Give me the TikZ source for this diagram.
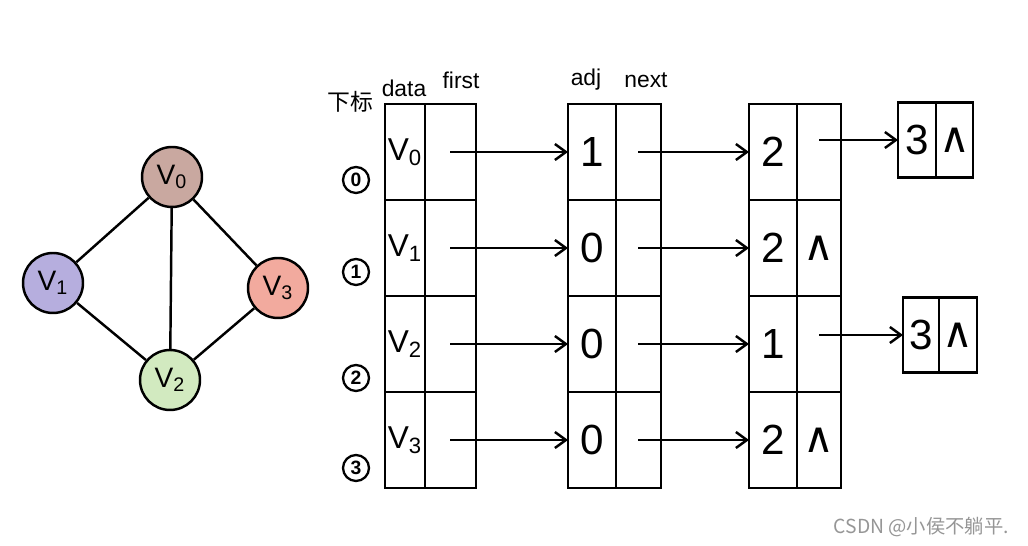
\documentclass[tikz,border=0pt]{standalone}
\usepackage{fontspec}
\setmainfont{Liberation Sans}
\newfontfamily\cjkfont{Noto Sans CJK SC}
\newfontfamily\symfont{DejaVu Sans}
\usepackage{tikz}
\usetikzlibrary{arrows.meta, positioning}
\definecolor{rosebrown}{RGB}{201, 168, 160}
\definecolor{lavender}{RGB}{182, 174, 222}
\definecolor{palegreen}{RGB}{210, 234, 192}
\definecolor{salmonpink}{RGB}{242, 170, 158}
\definecolor{markgray}{RGB}{150, 150, 150}

\begin{document}
\begin{tikzpicture}[
    x=0.02cm, y=-0.02cm,
    line width=1.4pt,
    vert/.style={circle, draw, minimum size=1.2cm, inner sep=0pt, font=\fontsize{16}{18}\selectfont},
    cell/.style={draw, minimum height=1.92cm, inner sep=0pt, outer sep=0pt, font=\fontsize{24}{28}\selectfont},
    nodebox/.style={draw, minimum height=1.5cm, inner sep=0pt, outer sep=0pt, font=\fontsize{24}{28}\selectfont},
    idx/.style={circle, draw, line width=1.3pt, minimum size=0.52cm, inner sep=0pt, font=\bfseries\fontsize{11}{12}\selectfont},
    head/.style={font=\fontsize{13}{15}\selectfont},
    link/.style={-{Straight Barb[length=2.2mm, width=3.2mm]}}
]
    \useasboundingbox[fill=white] (0,0) rectangle (1028,546);

    \node[vert, fill=rosebrown] (v0) at (172,177) {V\textsubscript{0}};
    \node[vert, fill=lavender] (v1) at (53,283) {V\textsubscript{1}};
    \node[vert, fill=palegreen] (v2) at (170,380) {V\textsubscript{2}};
    \node[vert, fill=salmonpink] (v3) at (278,288) {V\textsubscript{3}};
    \draw (v0) -- (v1) (v0) -- (v2) (v0) -- (v3) (v1) -- (v2) (v3) -- (v2);

    \node[head] (hidx) at (350,102) {\cjkfont 下标};
    \node[head] (hdata) at (404,88) {data};
    \node[head] (hfirst) at (461,80) {first};
    \node[head] (hadj) at (586,80) {adj};
    \node[head] (hnext) at (646,80) {next};

    \foreach \i/\yy in {0/180, 1/272, 2/378, 3/468} {
        \node[idx] (i\i) at (356,\yy) {\i};
    }
    \foreach \i in {0,...,3} {
        \node[cell, minimum width=0.8cm, font=\fontsize{18}{22}\selectfont] (d\i) at (405, 152+96*\i) {V\textsubscript{\i}};
        \node[cell, minimum width=1.02cm, anchor=west] (f\i) at (d\i.east) {};
    }
    \foreach \i/\val in {0/1, 1/0, 2/0, 3/0} {
        \node[cell, minimum width=0.96cm] (a\i) at (592, 152+96*\i) {\val};
        \node[cell, minimum width=0.9cm, anchor=west] (n\i) at (a\i.east) {};
    }
    \foreach \i/\val/\nxt in {0/2/{}, 1/2/{\symfont ∧}, 2/1/{}, 3/2/{\symfont ∧}} {
        \node[cell, minimum width=0.96cm] (b\i) at (773, 152+96*\i) {\val};
        \node[cell, minimum width=0.88cm, anchor=west] (m\i) at (b\i.east) {\nxt};
    }

    \node[nodebox, minimum width=0.76cm] (s0) at (917,140) {3};
    \node[nodebox, minimum width=0.74cm, anchor=west] (t0) at (s0.east) {\symfont ∧};
    \node[nodebox, minimum width=0.72cm] (s1) at (921,335) {3};
    \node[nodebox, minimum width=0.76cm, anchor=west] (t1) at (s1.east) {\symfont ∧};

    \foreach \i in {0,...,3} {
        \draw[link] (f\i.center) -- (a\i.west);
        \draw[link] (n\i.center) -- (b\i.west);
    }
    \draw[link] (m0.center |- s0.west) -- (s0.west);
    \draw[link] (m2.center |- s1.west) -- (s1.west);

    \node[anchor=east, text=markgray, font=\cjkfont\fontsize{11}{13}\selectfont] (mark) at (1016,527) {CSDN @小侯不躺平.};
\end{tikzpicture}
\end{document}
